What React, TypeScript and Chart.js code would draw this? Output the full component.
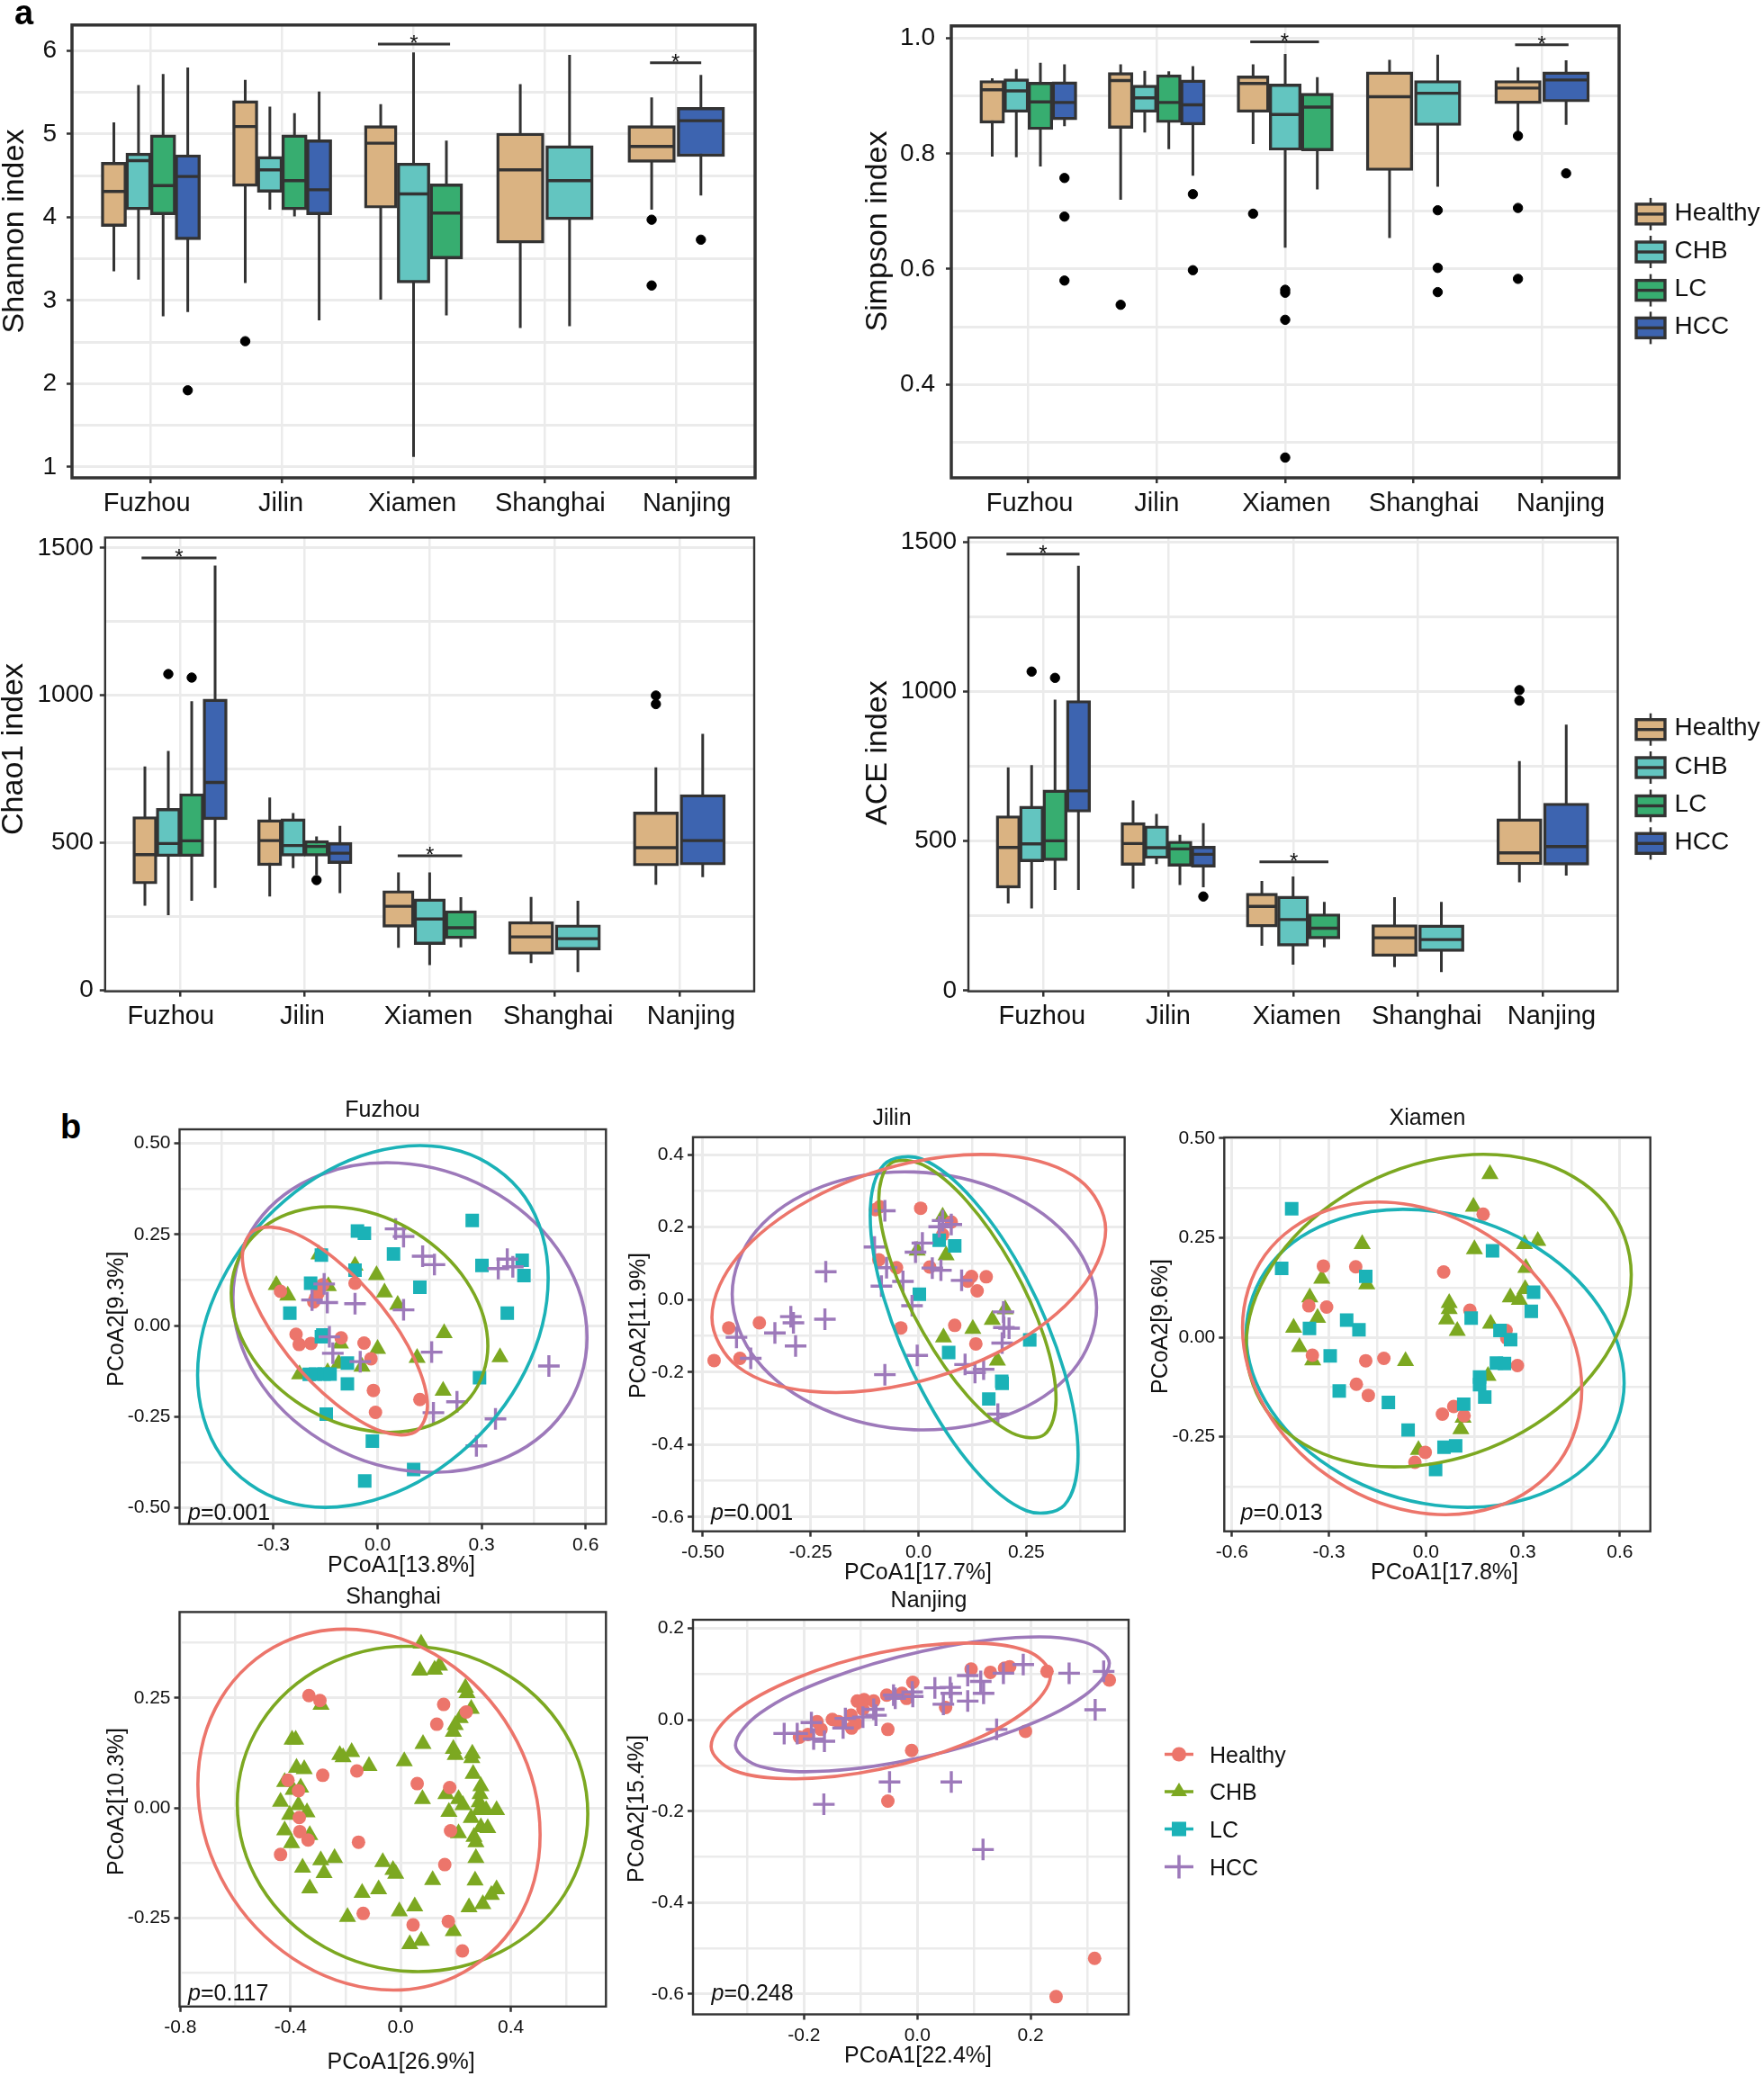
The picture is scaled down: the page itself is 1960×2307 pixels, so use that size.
import React, { useEffect, useRef } from "react";
import { Chart, registerables } from "chart.js";

Chart.register(...registerables);
Chart.defaults.font.family = "'Liberation Sans', Arial, sans-serif";

type Row = number[] | null;
const cities = ["Fuzhou", "Jilin", "Xiamen", "Shanghai", "Nanjing"];
const groups = ["Healthy", "CHB", "LC", "HCC"];
const boxColors = ["#DAB382", "#63C5C0", "#37AD70", "#3D64B0"];
const dotColors = ["#EC756B", "#7CA821", "#1BB2B7", "#9D79BA"];

// box rows: [low whisker, q1, median, q3, high whisker], one per city
const shannonHealthy: Row[] = [[3.35, 3.89, 4.31, 4.66, 5.14], [3.21, 4.37, 5.09, 5.4, 5.65], [3.01, 4.11, 4.89, 5.1, 5.36], [2.67, 3.69, 4.57, 5.01, 5.6], [4.09, 4.66, 4.85, 5.1, 5.44]];
const shannonCHB: Row[] = [[3.25, 4.09, 4.68, 4.77, 5.59], [4.09, 4.3, 4.57, 4.73, 5.33], [1.12, 3.21, 4.28, 4.65, 5.98], [2.69, 3.97, 4.44, 4.86, 5.95], null];
const shannonLC: Row[] = [[2.81, 4.03, 4.38, 4.99, 5.72], [4.01, 4.09, 4.44, 4.99, 5.25], [2.82, 3.5, 4.05, 4.4, 4.92], null, null];
const shannonHCC: Row[] = [[2.86, 3.73, 4.49, 4.75, 5.8], [2.76, 4.03, 4.33, 4.93, 5.51], null, null, [4.26, 4.73, 5.16, 5.32, 5.71]];
// outliers: [city index, group index, value]
const shannonOutliers = [[0, 3, 1.92], [1, 0, 2.51], [4, 0, 3.97], [4, 0, 3.18], [4, 3, 3.73]];
const shannonBrackets = [[2.729, 3.278, 6.08], [4.8, 5.19, 5.857]];
const shannonLabelAt = [0.97, 1.99, 2.99, 4.04, 5.08];

const simpsonHealthy: Row[] = [[0.795, 0.853, 0.911, 0.927, 0.931], [0.72, 0.844, 0.927, 0.941, 0.955], [0.817, 0.872, 0.922, 0.935, 0.955], [0.654, 0.771, 0.899, 0.942, 0.963], [0.834, 0.887, 0.914, 0.927, 0.95]];
const simpsonCHB: Row[] = [[0.794, 0.872, 0.909, 0.93, 0.947], [0.837, 0.872, 0.897, 0.919, 0.944], [0.637, 0.806, 0.868, 0.921, 0.973], [0.743, 0.849, 0.905, 0.927, 0.972], null];
const simpsonLC: Row[] = [[0.778, 0.842, 0.89, 0.924, 0.958], [0.808, 0.854, 0.889, 0.937, 0.943], [0.738, 0.805, 0.881, 0.905, 0.933], null, null];
const simpsonHCC: Row[] = [[0.848, 0.859, 0.889, 0.925, 0.955], [0.762, 0.85, 0.885, 0.928, 0.952], null, null, [0.85, 0.89, 0.928, 0.942, 0.962]];
const simpsonOutliers = [[0, 3, 0.758], [0, 3, 0.691], [0, 3, 0.58], [1, 0, 0.538], [1, 3, 0.73], [1, 3, 0.598], [2, 0, 0.696], [2, 1, 0.564], [2, 1, 0.559], [2, 1, 0.512], [2, 1, 0.273], [3, 1, 0.702], [3, 1, 0.602], [3, 1, 0.56], [4, 0, 0.831], [4, 0, 0.706], [4, 0, 0.583], [4, 3, 0.766]];
const simpsonBrackets = [[2.728, 3.263, 0.994], [4.79, 5.206, 0.989]];
const simpsonLabelAt = [1.01, 2, 3.01, 4.08, 5.145];

const chaoHealthy: Row[] = [[286, 360, 459, 588, 758], [317, 422, 507, 578, 653], [143, 213, 284, 337, 399], [91, 121, 180, 232, 316], [357, 421, 483, 604, 755]];
const chaoCHB: Row[] = [[254, 453, 497, 616, 811], [413, 454, 490, 581, 600], [84, 154, 241, 309, 399], [61, 136, 174, 221, 303], null];
const chaoLC: Row[] = [[303, 453, 506, 666, 980], [391, 454, 487, 507, 521], [145, 174, 211, 269, 315], null, null];
const chaoHCC: Row[] = [[346, 578, 704, 987, 1440], [329, 429, 464, 500, 557], null, null, [383, 424, 507, 663, 869]];
const chaoOutliers = [[0, 1, 1072], [0, 2, 1060], [1, 2, 373], [4, 0, 999], [4, 0, 970]];
const chaoBrackets = [[0.692, 1.292, 1466], [2.744, 3.26, 455]];
const chaoLabelAt = [0.926, 1.98, 2.99, 4.03, 5.095];

const aceHealthy: Row[] = [[292, 343, 479, 585, 747], [341, 419, 492, 562, 636], [150, 213, 282, 326, 367], [79, 115, 177, 221, 313], [362, 421, 461, 575, 768]];
const aceCHB: Row[] = [[275, 431, 491, 617, 754], [423, 442, 478, 551, 591], [87, 149, 238, 316, 382], [62, 131, 171, 220, 297], null];
const aceLC: Row[] = [[337, 435, 501, 671, 973], [353, 416, 474, 500, 521], [145, 173, 209, 257, 297], null, null];
const aceHCC: Row[] = [[337, 597, 668, 970, 1421], [346, 413, 456, 483, 560], null, null, [385, 420, 482, 627, 890]];
const aceOutliers = [[0, 1, 1067], [0, 2, 1046], [1, 3, 315], [4, 0, 1005], [4, 0, 970]];
const aceBrackets = [[0.705, 1.29, 1460], [2.731, 3.283, 431]];
const aceLabelAt = [0.99, 2, 3.03, 4.07, 5.07];

// ordination scores [PCoA1, PCoA2]
const fuzhouHealthy = [[-0.28, 0.094], [-0.235, -0.024], [-0.226, -0.052], [-0.192, -0.049], [-0.105, -0.034], [-0.039, -0.048], [-0.019, -0.091], [-0.012, -0.178], [-0.006, -0.238], [0.122, -0.203], [-0.065, 0.116], [-0.158, 0.112], [-0.172, 0.088], [-0.179, 0.076], [-0.184, 0.065], [-0.174, 0.097]];
const fuzhouCHB = [[-0.292, 0.111], [-0.259, 0.082], [-0.169, 0.195], [-0.142, 0.108], [-0.065, 0.164], [-0.003, 0.138], [0.02, 0.091], [0.058, 0.057], [0.192, -0.021], [0, -0.064], [0.114, -0.089], [0.353, -0.087], [0.189, -0.179], [-0.225, -0.134], [-0.107, -0.049], [-0.112, -0.104], [-0.144, -0.128], [-0.045, -0.113]];
const fuzhouLC = [[0.273, 0.288], [-0.058, 0.259], [-0.038, 0.253], [0.046, 0.196], [0.301, 0.165], [0.417, 0.179], [0.422, 0.137], [0.122, 0.105], [0.374, 0.034], [-0.065, 0.152], [-0.162, 0.193], [-0.193, 0.116], [-0.253, 0.034], [-0.162, -0.031], [-0.158, -0.026], [-0.087, -0.103], [-0.197, -0.134], [-0.179, -0.133], [-0.154, -0.133], [-0.137, -0.133], [-0.087, -0.16], [0.294, -0.143], [-0.148, -0.243], [-0.015, -0.317], [0.104, -0.395], [-0.037, -0.426]];
const fuzhouHCC = [[0.052, 0.265], [0.075, 0.244], [0.13, 0.19], [0.164, 0.167], [0.348, 0.156], [0.374, 0.182], [0.39, 0.161], [-0.145, 0.063], [-0.189, 0.07], [-0.065, 0.06], [0.075, 0.043], [-0.139, -0.031], [-0.129, -0.076], [-0.05, -0.099], [0.156, -0.073], [0.494, -0.111], [0.229, -0.209], [0.161, -0.239], [0.34, -0.256], [0.285, -0.33], [-0.154, 0.114]];
const fuzhouHealthyRing = [[0.144, -0.221], [0.108, -0.094], [0.011, 0.054], [-0.123, 0.183], [-0.257, 0.26], [-0.354, 0.262], [-0.39, 0.191], [-0.354, 0.064], [-0.257, -0.084], [-0.123, -0.213], [0.011, -0.29], [0.108, -0.292]];
const fuzhouCHBRing = [[0.318, -0.056], [0.268, 0.104], [0.133, 0.24], [-0.052, 0.317], [-0.237, 0.313], [-0.372, 0.229], [-0.422, 0.089], [-0.372, -0.071], [-0.237, -0.207], [-0.052, -0.284], [0.133, -0.28], [0.268, -0.196]];
const fuzhouLCRing = [[0.492, 0.131], [0.425, 0.352], [0.239, 0.478], [-0.014, 0.475], [-0.266, 0.344], [-0.451, 0.121], [-0.519, -0.136], [-0.451, -0.357], [-0.266, -0.483], [-0.014, -0.48], [0.239, -0.349], [0.425, -0.126]];
const fuzhouHCCRing = [[0.604, -0.033], [0.536, 0.185], [0.349, 0.359], [0.094, 0.443], [-0.162, 0.414], [-0.349, 0.281], [-0.417, 0.077], [-0.349, -0.141], [-0.162, -0.315], [0.094, -0.399], [0.349, -0.37], [0.536, -0.237]];

const jilinHealthy = [[-0.474, -0.168], [-0.44, -0.078], [-0.369, -0.064], [-0.414, -0.162], [-0.09, 0.256], [-0.1, 0.248], [0.005, 0.252], [0.076, 0.214], [0.056, 0.179], [-0.092, 0.11], [-0.051, 0.088], [0.026, 0.09], [0.123, 0.064], [0.157, 0.063], [0.114, 0.051], [0.136, 0.024], [-0.041, -0.078], [0.084, -0.071], [0.133, -0.122]];
const jilinCHB = [[0.056, 0.229], [-0.003, 0.135], [0.064, 0.122], [0.201, -0.027], [0.171, -0.056], [0.126, -0.081], [0.058, -0.104], [0.183, -0.168]];
const jilinLC = [[0.048, 0.164], [0.084, 0.148], [0.002, 0.015], [0.258, -0.111], [0.07, -0.146], [0.193, -0.225], [0.194, -0.231], [0.163, -0.274]];
const jilinHCC = [[-0.078, 0.245], [0.056, 0.218], [0.048, 0.201], [0.076, 0.207], [0.009, 0.156], [-0.007, 0.131], [-0.102, 0.145], [-0.215, 0.077], [-0.086, 0.037], [-0.074, 0.088], [-0.036, 0.05], [0.032, 0.087], [0.052, 0.081], [0.1, 0.053], [-0.015, -0.017], [-0.296, -0.047], [-0.29, -0.064], [-0.217, -0.054], [-0.333, -0.092], [-0.422, -0.104], [-0.285, -0.128], [-0.389, -0.162], [-0.003, -0.154], [-0.078, -0.207], [0.197, -0.034], [0.198, -0.077], [0.21, -0.079], [0.194, -0.12], [0.108, -0.179], [0.131, -0.201], [0.151, -0.192], [0.184, -0.316]];
const jilinHealthyRing = [[0.434, 0.193], [0.373, 0.33], [0.206, 0.397], [-0.023, 0.377], [-0.251, 0.276], [-0.418, 0.12], [-0.479, -0.049], [-0.418, -0.186], [-0.251, -0.253], [-0.023, -0.233], [0.206, -0.132], [0.373, 0.025]];
const jilinCHBRing = [[0.319, -0.276], [0.292, -0.105], [0.217, 0.094], [0.114, 0.269], [0.011, 0.371], [-0.065, 0.375], [-0.092, 0.279], [-0.065, 0.108], [0.011, -0.091], [0.114, -0.266], [0.217, -0.368], [0.292, -0.372]];
const jilinLCRing = [[0.37, -0.427], [0.338, -0.198], [0.25, 0.058], [0.129, 0.272], [0.009, 0.387], [-0.08, 0.372], [-0.112, 0.232], [-0.08, 0.003], [0.009, -0.253], [0.129, -0.467], [0.25, -0.582], [0.338, -0.567]];
const jilinHCCRing = [[0.413, -0.022], [0.357, 0.159], [0.202, 0.295], [-0.01, 0.352], [-0.221, 0.313], [-0.376, 0.19], [-0.432, 0.015], [-0.376, -0.166], [-0.221, -0.302], [-0.01, -0.359], [0.202, -0.32], [0.357, -0.197]];

const xiamenHealthy = [[0.177, 0.309], [-0.317, 0.179], [-0.217, 0.177], [0.055, 0.164], [-0.362, 0.079], [-0.307, 0.076], [0.136, 0.068], [0.248, 0.017], [0.25, -0.002], [-0.351, -0.045], [-0.186, -0.059], [-0.13, -0.053], [0.283, -0.071], [-0.215, -0.118], [-0.178, -0.146], [0.051, -0.193], [0.086, -0.174], [0.118, -0.197], [-0.002, -0.289], [-0.034, -0.314]];
const xiamenCHB = [[0.198, 0.41], [0.147, 0.328], [0.15, 0.221], [0.305, 0.234], [0.346, 0.242], [-0.197, 0.234], [0.309, 0.174], [-0.322, 0.147], [-0.183, 0.133], [-0.359, 0.1], [0.307, 0.121], [0.261, 0.1], [0.289, 0.094], [0.072, 0.086], [0.072, 0.071], [0.064, 0.045], [-0.335, 0.049], [-0.409, 0.024], [0.097, 0.016], [0.2, 0.034], [-0.391, -0.025], [-0.35, -0.058], [-0.063, -0.06], [0.192, -0.097], [0.115, -0.202], [0.108, -0.231], [-0.023, -0.283]];
const xiamenLC = [[-0.415, 0.323], [-0.446, 0.173], [-0.186, 0.153], [0.206, 0.217], [0.333, 0.113], [0.326, 0.065], [0.14, 0.048], [-0.245, 0.043], [-0.207, 0.019], [-0.36, 0.022], [-0.296, -0.047], [0.229, 0.017], [0.262, -0.006], [0.218, -0.065], [0.243, -0.066], [0.166, -0.1], [0.166, -0.119], [0.182, -0.15], [-0.268, -0.135], [-0.116, -0.164], [0.117, -0.168], [-0.055, -0.233], [0.056, -0.276], [0.092, -0.273], [0.03, -0.332]];
const xiamenHealthyRing = [[0.482, -0.131], [0.412, 0.072], [0.22, 0.241], [-0.043, 0.332], [-0.305, 0.319], [-0.497, 0.207], [-0.567, 0.025], [-0.497, -0.178], [-0.305, -0.347], [-0.043, -0.438], [0.22, -0.425], [0.412, -0.313]];
const xiamenCHBRing = [[0.635, 0.157], [0.556, 0.336], [0.338, 0.443], [0.04, 0.449], [-0.258, 0.353], [-0.476, 0.18], [-0.556, -0.023], [-0.476, -0.202], [-0.258, -0.309], [0.04, -0.315], [0.338, -0.219], [0.556, -0.046]];
const xiamenLCRing = [[0.613, -0.115], [0.535, 0.078], [0.321, 0.236], [0.029, 0.316], [-0.264, 0.298], [-0.478, 0.186], [-0.556, 0.009], [-0.478, -0.184], [-0.264, -0.342], [0.029, -0.422], [0.321, -0.404], [0.535, -0.292]];

const shanghaiHealthy = [[-0.333, 0.255], [-0.293, 0.244], [0.156, 0.235], [0.131, 0.19], [0.238, 0.218], [-0.283, 0.074], [-0.159, 0.084], [0.06, 0.055], [0.178, 0.046], [-0.409, 0.063], [-0.371, 0.039], [-0.368, -0.022], [-0.366, -0.054], [-0.336, -0.073], [-0.153, -0.078], [-0.436, -0.106], [0.181, -0.052], [0.16, -0.129], [-0.136, -0.24], [0.045, -0.266], [0.173, -0.258], [0.224, -0.325]];
const shanghaiCHB = [[0.074, 0.373], [0.069, 0.312], [0.123, 0.314], [0.141, 0.323], [0.235, 0.273], [0.241, 0.261], [-0.289, 0.234], [0.256, 0.225], [0.216, 0.204], [0.198, 0.188], [0.191, 0.173], [-0.394, 0.155], [-0.381, 0.155], [0.081, 0.145], [0.191, 0.134], [0.198, 0.12], [0.26, 0.123], [0.258, 0.113], [-0.221, 0.12], [-0.209, 0.115], [-0.178, 0.127], [-0.115, 0.095], [0.013, 0.106], [-0.378, 0.091], [-0.35, 0.088], [0.263, 0.077], [-0.421, 0.059], [-0.39, 0.041], [-0.363, 0.046], [0.291, 0.049], [0.288, 0.031], [0.164, 0.031], [0.079, 0.02], [0.21, 0.02], [0.226, 0.006], [-0.436, 0.014], [-0.371, 0.006], [-0.34, -0.01], [-0.403, -0.016], [0.285, 0.013], [0.285, -0.005], [0.31, -0.005], [0.348, -0.005], [0.175, -0.009], [0.256, -0.023], [0.291, -0.044], [0.316, -0.046], [-0.421, -0.051], [-0.396, -0.08], [-0.33, -0.062], [0.21, -0.058], [0.266, -0.066], [0.273, -0.078], [0.273, -0.114], [-0.29, -0.119], [-0.24, -0.114], [-0.356, -0.136], [-0.278, -0.148], [-0.065, -0.123], [-0.028, -0.141], [-0.018, -0.15], [0.27, -0.165], [0.116, -0.164], [-0.33, -0.183], [-0.14, -0.193], [-0.08, -0.185], [0.348, -0.185], [0.329, -0.198], [0.051, -0.224], [0.298, -0.219], [0.248, -0.226], [-0.005, -0.235], [-0.193, -0.248], [0.191, -0.28], [0.075, -0.302], [0.033, -0.31]];
const shanghaiHealthyRing = [[0.506, -0.061], [0.423, 0.15], [0.196, 0.319], [-0.115, 0.402], [-0.426, 0.376], [-0.653, 0.248], [-0.736, 0.053], [-0.653, -0.158], [-0.426, -0.327], [-0.115, -0.41], [0.196, -0.384], [0.423, -0.256]];
const shanghaiCHBRing = [[0.679, -0.014], [0.594, 0.173], [0.361, 0.312], [0.043, 0.367], [-0.275, 0.323], [-0.508, 0.192], [-0.593, 0.009], [-0.508, -0.178], [-0.275, -0.317], [0.043, -0.372], [0.361, -0.328], [0.594, -0.197]];

const nanjingHealthy = [[0.245, -0.606], [0.313, -0.522], [0.339, 0.087], [0.229, 0.106], [0.191, -0.025], [0.163, 0.116], [0.154, 0.113], [0.129, 0.104], [0.095, 0.111], [-0.008, 0.082], [0.05, 0.027], [-0.052, -0.021], [-0.01, -0.067], [-0.052, -0.178], [-0.027, 0.058], [-0.019, 0.047], [-0.054, 0.054], [-0.077, 0.041], [-0.094, 0.044], [-0.106, 0.041], [-0.096, 0.023], [-0.117, 0.01], [-0.108, -0.008], [-0.116, -0.018], [-0.15, 0.001], [-0.139, -0.004], [-0.177, -0.004], [-0.17, -0.021], [-0.193, -0.032], [-0.208, -0.038]];
const nanjingHCC = [[-0.235, -0.03], [-0.212, -0.03], [-0.187, -0.006], [-0.183, -0.042], [-0.164, -0.047], [-0.127, 0.003], [-0.131, -0.018], [-0.096, 0.006], [-0.073, 0.01], [-0.077, 0.023], [-0.042, 0.054], [-0.039, 0.047], [-0.009, 0.061], [-0.008, 0.051], [0.031, 0.07], [0.058, 0.071], [0.06, 0.058], [0.046, 0.034], [0.089, 0.041], [0.089, 0.097], [0.112, 0.084], [0.117, 0.058], [0.152, 0.102], [0.187, 0.121], [0.268, 0.102], [0.329, 0.106], [0.314, 0.022], [0.14, -0.021], [-0.049, -0.136], [0.06, -0.136], [-0.165, -0.185], [0.116, -0.284]];
const nanjingHealthyRing = [[0.235, 0.097], [0.195, 0.15], [0.085, 0.168], [-0.065, 0.147], [-0.214, 0.091], [-0.324, 0.016], [-0.364, -0.058], [-0.324, -0.111], [-0.214, -0.129], [-0.065, -0.108], [0.085, -0.052], [0.195, 0.023]];
const nanjingHCCRing = [[0.339, 0.124], [0.295, 0.17], [0.174, 0.18], [0.009, 0.15], [-0.156, 0.09], [-0.277, 0.015], [-0.321, -0.056], [-0.277, -0.102], [-0.156, -0.112], [0.009, -0.082], [0.174, -0.022], [0.295, 0.053]];

const INK = "#333333";
const GRID = "#EBEBEB";
const TEXT = "#111111";

type Rect = { l: number; t: number; r: number; b: number };
type Note = { s: string; x: number; y: number; size: number; rot?: boolean; align?: CanvasTextAlign; italic?: boolean };

function axis(o: { dir: "x" | "y"; min: number; max: number; major: number[]; minor: number[]; labels: string[]; pad: number; size: number; fixed: number; lwMajor: number; lwMinor: number }) {
  const map = new Map(o.major.map((v, i) => [v, o.labels[i]]));
  const all = [...o.major, ...o.minor].sort((a, b) => a - b);
  return {
    type: "linear",
    min: o.min,
    max: o.max,
    offset: false,
    afterBuildTicks: (a: any) => { a.ticks = all.map((value) => ({ value })); },
    afterFit: (a: any) => { if (o.dir === "x") a.height = o.fixed; else a.width = o.fixed; },
    border: { display: false },
    grid: {
      offset: false,
      color: GRID,
      lineWidth: (c: any) => (c.tick && map.has(c.tick.value) ? o.lwMajor : o.lwMinor),
      tickColor: (c: any) => (c.tick && map.has(c.tick.value) ? INK : "rgba(0,0,0,0)"),
      tickLength: 6,
      tickWidth: 2.5,
    },
    ticks: {
      autoSkip: false, maxRotation: 0, minRotation: 0, padding: o.pad, color: TEXT,
      font: { size: o.size },
      callback: (v: number) => map.get(v) ?? "",
    },
  };
}

function frameAndNotes(p: { canvas: Rect; frame: number; notes: Note[]; stars?: number[][]; extra?: (ctx: CanvasRenderingContext2D) => void }) {
  return {
    id: "panelDecor",
    afterDatasetsDraw(chart: any) {
      const ctx: CanvasRenderingContext2D = chart.ctx;
      const { left, top, right, bottom } = chart.chartArea;
      ctx.save();
      ctx.strokeStyle = INK;
      ctx.lineWidth = p.frame;
      ctx.strokeRect(left, top, right - left, bottom - top);
      ctx.fillStyle = TEXT;
      (p.stars || []).forEach((b) => {
        ctx.font = "24px 'Liberation Sans'";
        ctx.textAlign = "center";
        ctx.textBaseline = "alphabetic";
        ctx.fillText("*", chart.scales.x.getPixelForValue((b[0] + b[1]) / 2), chart.scales.y.getPixelForValue(b[2]) + 7);
      });
      ctx.translate(-p.canvas.l, -p.canvas.t);
      p.notes.forEach((n) => {
        ctx.save();
        ctx.font = `${n.italic ? "italic " : ""}${n.size}px 'Liberation Sans'`;
        ctx.textAlign = n.align || "center";
        ctx.textBaseline = "middle";
        ctx.translate(n.x, n.y);
        if (n.rot) ctx.rotate(-Math.PI / 2);
        ctx.fillText(n.s, 0, 0);
        ctx.restore();
      });
      if (p.extra) p.extra(ctx);
      ctx.restore();
    },
  };
}

function boxLegend(ys: number[]) {
  return (ctx: CanvasRenderingContext2D) => {
    ys.forEach((y, i) => {
      ctx.strokeStyle = INK;
      ctx.lineWidth = 2.5;
      ctx.beginPath();
      ctx.moveTo(1834, y - 18);
      ctx.lineTo(1834, y + 18);
      ctx.stroke();
      ctx.fillStyle = boxColors[i];
      ctx.fillRect(1818, y - 11, 32, 22);
      ctx.lineWidth = 3.4;
      ctx.strokeRect(1818, y - 11, 32, 22);
      ctx.beginPath();
      ctx.moveTo(1818, y);
      ctx.lineTo(1850, y);
      ctx.stroke();
      ctx.fillStyle = TEXT;
      ctx.font = "28px 'Liberation Sans'";
      ctx.textAlign = "left";
      ctx.textBaseline = "middle";
      ctx.fillText(groups[i], 1860.6, y - 1);
    });
  };
}

function dotLegend(ctx: CanvasRenderingContext2D) {
  const ys = [1949.5, 1991, 2032.5, 2074.5];
  const cx = 1310;
  ys.forEach((y, i) => {
    ctx.strokeStyle = dotColors[i];
    ctx.fillStyle = dotColors[i];
    ctx.lineWidth = 3.5;
    ctx.beginPath();
    ctx.moveTo(1294, y);
    ctx.lineTo(1326, y);
    ctx.stroke();
    ctx.beginPath();
    if (i === 0) ctx.arc(cx, y, 8, 0, Math.PI * 2);
    if (i === 1) { ctx.moveTo(cx, y - 10); ctx.lineTo(cx + 9, y + 5); ctx.lineTo(cx - 9, y + 5); ctx.closePath(); }
    if (i === 2) ctx.rect(cx - 8, y - 8, 16, 16);
    if (i === 3) { ctx.moveTo(cx, y - 13); ctx.lineTo(cx, y + 13); ctx.stroke(); }
    else ctx.fill();
    ctx.fillStyle = TEXT;
    ctx.font = "25px 'Liberation Sans'";
    ctx.textAlign = "left";
    ctx.textBaseline = "middle";
    ctx.fillText(groups[i], 1344, y + 2.5);
  });
}

function boxConfig(o: { canvas: Rect; plot: Rect; frame: number; rows: Row[][]; outliers: number[][]; brackets: number[][]; labelAt: number[]; xPad: number; yMin: number; yMax: number; major: number[]; minor: number[]; labels: string[]; yPad: number; notes: Note[]; extra?: (c: CanvasRenderingContext2D) => void }) {
  const pxPerUnit = (o.plot.r - o.plot.l) / 5.2;
  const datasets: any[] = [];
  const xOf: Record<string, number> = {};
  cities.forEach((_, c) => {
    const present = o.rows.map((r, s) => (r[c] ? s : -1)).filter((s) => s >= 0);
    const dodge = 0.75 / present.length;
    const w = dodge * 0.9;
    present.forEach((s, k) => {
      const x = c + 1 + (k - (present.length - 1) / 2) * dodge;
      xOf[`${c}-${s}`] = x;
      const [lo, q1, med, q3, hi] = o.rows[s][c] as number[];
      datasets.push({ type: "line", label: `${groups[s]} whisker`, data: [{ x, y: lo }, { x, y: hi }], borderColor: INK, borderWidth: 3, pointRadius: 0, order: 3 });
      datasets.push({ type: "bar", label: `${groups[s]} ${cities[c]}`, data: [{ x, y: [q1, q3] }], barThickness: w * pxPerUnit + 3.4, grouped: false, backgroundColor: boxColors[s], borderColor: INK, borderWidth: 3.4, borderSkipped: false, order: 2 });
      datasets.push({ type: "line", label: `${groups[s]} median`, data: [{ x: x - w / 2, y: med }, { x: x + w / 2, y: med }], borderColor: INK, borderWidth: 3.4, pointRadius: 0, order: 1 });
    });
  });
  datasets.push({ type: "scatter", label: "outliers", data: o.outliers.map(([c, s, v]) => ({ x: xOf[`${c}-${s}`], y: v })), backgroundColor: "#000", borderColor: "#000", pointRadius: 5.2, order: 0 });
  o.brackets.forEach((b) => datasets.push({ type: "line", label: "bracket", data: [{ x: b[0], y: b[2] }, { x: b[1], y: b[2] }], borderColor: INK, borderWidth: 3, pointRadius: 0, order: 0 }));
  const xMarks = axis({ dir: "x", min: 0.4, max: 5.6, major: [1, 2, 3, 4, 5], minor: [], labels: cities, pad: 0, size: 29, fixed: 0, lwMajor: 2.5, lwMinor: 2.5 });
  const xNames = axis({ dir: "x", min: 0.4, max: 5.6, major: o.labelAt, minor: [], labels: cities, pad: o.xPad, size: 29, fixed: o.canvas.b - o.plot.b, lwMajor: 0, lwMinor: 0 });
  return {
    canvas: o.canvas,
    config: {
      type: "bar",
      data: { datasets },
      options: {
        animation: false, responsive: false, devicePixelRatio: 1, events: [],
        layout: { padding: { top: o.plot.t - o.canvas.t, right: o.canvas.r - o.plot.r, left: 0, bottom: 0 } },
        plugins: { legend: { display: false }, tooltip: { enabled: false } },
        scales: {
          x: { ...xMarks, position: "bottom", weight: 0, ticks: { ...xMarks.ticks, display: false } },
          xNames: { ...xNames, axis: "x", position: "bottom", weight: 1, grid: { display: false, drawTicks: false } },
          y: axis({ dir: "y", min: o.yMin, max: o.yMax, major: o.major, minor: o.minor, labels: o.labels, pad: o.yPad, size: 28, fixed: o.plot.l - o.canvas.l, lwMajor: 3, lwMinor: 3 }),
        },
      },
      plugins: [frameAndNotes({ canvas: o.canvas, frame: o.frame, notes: o.notes, stars: o.brackets, extra: o.extra })],
    },
  };
}

// the ring repeats its ends so that the spline closes smoothly; the repeated end spans stay unpainted
const ringPoints = (pts: number[][]) => [pts[pts.length - 1], ...pts, pts[0], pts[1]].map(([x, y]) => ({ x, y }));
const toXY = (pts: number[][]) => pts.map(([x, y]) => ({ x, y }));

const markers = [
  { pointStyle: "circle", pointRadius: 7.5, pointBorderWidth: 0 },
  { pointStyle: "triangle", pointRadius: 11, pointBorderWidth: 0 },
  { pointStyle: "rect", pointRadius: 10.6, pointBorderWidth: 0 },
  { pointStyle: "cross", pointRadius: 12, pointBorderWidth: 3.4 },
];

function pcoaConfig(o: { canvas: Rect; plot: Rect; points: (number[][] | null)[]; rings: (number[][] | null)[]; xr: number[]; yr: number[]; xMajor: number[]; xMinor: number[]; xLabels: string[]; yMajor: number[]; yMinor: number[]; yLabels: string[]; notes: Note[]; extra?: (c: CanvasRenderingContext2D) => void }) {
  const datasets: any[] = [];
  o.rings.forEach((r, s) => {
    if (!r) return;
    const data = ringPoints(r);
    datasets.push({
      type: "line", label: `${groups[s]} ellipse`, data, borderColor: dotColors[s], borderWidth: 3.6, pointRadius: 0, tension: 0.35, fill: false, order: 0,
      segment: { borderColor: (c: any) => (c.p0DataIndex === 0 || c.p1DataIndex === data.length - 1 ? "rgba(0,0,0,0)" : dotColors[s]) },
    });
  });
  [3, 2, 0, 1].forEach((s) => {
    const p = o.points[s];
    if (p) datasets.push({ type: "scatter", label: groups[s], data: toXY(p), backgroundColor: dotColors[s], borderColor: dotColors[s], ...markers[s], order: 1 });
  });
  return {
    canvas: o.canvas,
    config: {
      type: "scatter",
      data: { datasets },
      options: {
        animation: false, responsive: false, devicePixelRatio: 1, events: [],
        layout: { padding: { top: o.plot.t - o.canvas.t, right: o.canvas.r - o.plot.r, left: 0, bottom: 0 } },
        plugins: { legend: { display: false }, tooltip: { enabled: false } },
        scales: {
          x: axis({ dir: "x", min: o.xr[0], max: o.xr[1], major: o.xMajor, minor: o.xMinor, labels: o.xLabels, pad: 5, size: 21, fixed: o.canvas.b - o.plot.b, lwMajor: 3, lwMinor: 2.5 }),
          y: axis({ dir: "y", min: o.yr[0], max: o.yr[1], major: o.yMajor, minor: o.yMinor, labels: o.yLabels, pad: 4, size: 21, fixed: o.plot.l - o.canvas.l, lwMajor: 3, lwMinor: 2.5 }),
        },
      },
      plugins: [frameAndNotes({ canvas: o.canvas, frame: 2.4, notes: o.notes, extra: o.extra })],
    },
  };
}

const pNote = (s: string, x: number, y: number): Note[] => [
  { s: "p", x, y, size: 25, align: "left", italic: true },
  { s, x: x + 14, y, size: 25, align: "left" },
];

const panels = [
  boxConfig({
    canvas: { l: 0, t: 0, r: 880, b: 590 }, plot: { l: 80, t: 25, r: 839, b: 531 }, frame: 3.5,
    rows: [shannonHealthy, shannonCHB, shannonLC, shannonHCC], outliers: shannonOutliers, brackets: shannonBrackets, labelAt: shannonLabelAt, xPad: 12,
    yMin: 0.868, yMax: 6.31, major: [1, 2, 3, 4, 5, 6], minor: [1.5, 2.5, 3.5, 4.5, 5.5], labels: ["1", "2", "3", "4", "5", "6"], yPad: 11,
    notes: [{ s: "Shannon index", x: 16.5, y: 257, size: 34, rot: true }],
  }),
  boxConfig({
    canvas: { l: 940, t: 0, r: 1960, b: 590 }, plot: { l: 1057, t: 25, r: 1799, b: 531 }, frame: 3.5,
    rows: [simpsonHealthy, simpsonCHB, simpsonLC, simpsonHCC], outliers: simpsonOutliers, brackets: simpsonBrackets, labelAt: simpsonLabelAt, xPad: 12,
    yMin: 0.2378, yMax: 1.0218, major: [0.4, 0.6, 0.8, 1], minor: [0.3, 0.5, 0.7, 0.9], labels: ["0.4", "0.6", "0.8", "1.0"], yPad: 12,
    notes: [{ s: "Simpson index", x: 975.5, y: 257, size: 34, rot: true }],
    extra: boxLegend([237.9, 280, 322.6, 364.4]),
  }),
  boxConfig({
    canvas: { l: 0, t: 570, r: 880, b: 1160 }, plot: { l: 116.8, t: 597.4, r: 838, b: 1101.6 }, frame: 2.4,
    rows: [chaoHealthy, chaoCHB, chaoLC, chaoHCC], outliers: chaoOutliers, brackets: chaoBrackets, labelAt: chaoLabelAt, xPad: 10.5,
    yMin: -4.5, yMax: 1535, major: [0, 500, 1000, 1500], minor: [250, 750, 1250], labels: ["0", "500", "1000", "1500"], yPad: 7,
    notes: [{ s: "Chao1 index", x: 16, y: 832.5, size: 34, rot: true }],
  }),
  boxConfig({
    canvas: { l: 940, t: 570, r: 1960, b: 1160 }, plot: { l: 1076, t: 597.4, r: 1797.5, b: 1101.6 }, frame: 2.4,
    rows: [aceHealthy, aceCHB, aceLC, aceHCC], outliers: aceOutliers, brackets: aceBrackets, labelAt: aceLabelAt, xPad: 10.5,
    yMin: -2, yMax: 1515, major: [0, 500, 1000, 1500], minor: [250, 750, 1250], labels: ["0", "500", "1000", "1500"], yPad: 7,
    notes: [{ s: "ACE index", x: 975.5, y: 836.6, size: 34, rot: true }],
    extra: boxLegend([810.7, 853, 895.5, 937.3]),
  }),
  pcoaConfig({
    canvas: { l: 100, t: 1210, r: 690, b: 1760 }, plot: { l: 199.5, t: 1255, r: 673.3, b: 1693.5 },
    points: [fuzhouHealthy, fuzhouCHB, fuzhouLC, fuzhouHCC], rings: [fuzhouHealthyRing, fuzhouCHBRing, fuzhouLCRing, fuzhouHCCRing],
    xr: [-0.571, 0.6586], yr: [-0.544, 0.538],
    xMajor: [-0.3, 0, 0.3, 0.6], xMinor: [-0.45, -0.15, 0.15, 0.45], xLabels: ["-0.3", "0.0", "0.3", "0.6"],
    yMajor: [-0.5, -0.25, 0, 0.25, 0.5], yMinor: [-0.375, -0.125, 0.125, 0.375], yLabels: ["-0.50", "-0.25", "0.00", "0.25", "0.50"],
    notes: [{ s: "Fuzhou", x: 425, y: 1234.5, size: 25 }, { s: "PCoA1[13.8%]", x: 446, y: 1740.5, size: 25 }, { s: "PCoA2[9.3%]", x: 130.5, y: 1465.6, size: 25, rot: true }, ...pNote("=0.001", 209, 1682.5)],
  }),
  pcoaConfig({
    canvas: { l: 680, t: 1210, r: 1265, b: 1760 }, plot: { l: 770, t: 1263.7, r: 1253.7, b: 1701.7 },
    points: [jilinHealthy, jilinCHB, jilinLC, jilinHCC], rings: [jilinHealthyRing, jilinCHBRing, jilinLCRing, jilinHCCRing],
    xr: [-0.5229, 0.478], yr: [-0.639, 0.448],
    xMajor: [-0.5, -0.25, 0, 0.25], xMinor: [-0.375, -0.125, 0.125, 0.375], xLabels: ["-0.50", "-0.25", "0.0", "0.25"],
    yMajor: [-0.6, -0.4, -0.2, 0, 0.2, 0.4], yMinor: [-0.5, -0.3, -0.1, 0.1, 0.3], yLabels: ["-0.6", "-0.4", "-0.2", "0.0", "0.2", "0.4"],
    notes: [{ s: "Jilin", x: 991, y: 1243.5, size: 25 }, { s: "PCoA1[17.7%]", x: 1020, y: 1748.5, size: 25 }, { s: "PCoA2[11.9%]", x: 710.5, y: 1473, size: 25, rot: true }, ...pNote("=0.001", 790, 1682.5)],
  }),
  pcoaConfig({
    canvas: { l: 1260, t: 1210, r: 1860, b: 1760 }, plot: { l: 1360.3, t: 1264, r: 1833.7, b: 1701.7 },
    points: [xiamenHealthy, xiamenCHB, xiamenLC, null], rings: [xiamenHealthyRing, xiamenCHBRing, xiamenLCRing, null],
    xr: [-0.6235, 0.694], yr: [-0.4875, 0.502],
    xMajor: [-0.6, -0.3, 0, 0.3, 0.6], xMinor: [-0.45, -0.15, 0.15, 0.45], xLabels: ["-0.6", "-0.3", "0.0", "0.3", "0.6"],
    yMajor: [-0.25, 0, 0.25, 0.5], yMinor: [-0.375, -0.125, 0.125, 0.375], yLabels: ["-0.25", "0.00", "0.25", "0.50"],
    notes: [{ s: "Xiamen", x: 1586, y: 1243.5, size: 25 }, { s: "PCoA1[17.8%]", x: 1605, y: 1748.5, size: 25 }, { s: "PCoA2[9.6%]", x: 1290.5, y: 1474, size: 25, rot: true }, ...pNote("=0.013", 1378.6, 1682.5)],
  }),
  pcoaConfig({
    canvas: { l: 100, t: 1755, r: 690, b: 2307 }, plot: { l: 199.5, t: 1791.4, r: 673.3, b: 2229.8 },
    points: [shanghaiHealthy, shanghaiCHB, null, null], rings: [shanghaiHealthyRing, shanghaiCHBRing, null, null],
    xr: [-0.8025, 0.745], yr: [-0.4515, 0.445],
    xMajor: [-0.8, -0.4, 0, 0.4], xMinor: [-0.6, -0.2, 0.2, 0.6], xLabels: ["-0.8", "-0.4", "0.0", "0.4"],
    yMajor: [-0.25, 0, 0.25], yMinor: [-0.375, -0.125, 0.125, 0.375], yLabels: ["-0.25", "0.00", "0.25"],
    notes: [{ s: "Shanghai", x: 437, y: 1775.5, size: 25 }, { s: "PCoA1[26.9%]", x: 445.6, y: 2292.5, size: 25 }, { s: "PCoA2[10.3%]", x: 130.5, y: 2002, size: 25, rot: true }, ...pNote("=0.117", 209, 2216.5)],
  }),
  pcoaConfig({
    canvas: { l: 680, t: 1755, r: 1500, b: 2307 }, plot: { l: 770, t: 1800, r: 1254, b: 2238.5 },
    points: [nanjingHealthy, null, null, nanjingHCC], rings: [nanjingHealthyRing, null, null, nanjingHCCRing],
    xr: [-0.396, 0.373], yr: [-0.6447, 0.219],
    xMajor: [-0.2, 0, 0.2], xMinor: [-0.3, -0.1, 0.1, 0.3], xLabels: ["-0.2", "0.0", "0.2"],
    yMajor: [-0.6, -0.4, -0.2, 0, 0.2], yMinor: [-0.5, -0.3, -0.1, 0.1], yLabels: ["-0.6", "-0.4", "-0.2", "0.0", "0.2"],
    notes: [{ s: "Nanjing", x: 1032, y: 1779.5, size: 25 }, { s: "PCoA1[22.4%]", x: 1020, y: 2285.5, size: 25 }, { s: "PCoA2[15.4%]", x: 707.7, y: 2010, size: 25, rot: true }, ...pNote("=0.248", 790.5, 2216.5)],
    extra: dotLegend,
  }),
];

function Panel({ canvas, config }: { canvas: Rect; config: any }) {
  const ref = useRef<HTMLCanvasElement>(null);
  useEffect(() => {
    const chart = new Chart(ref.current as HTMLCanvasElement, config);
    return () => chart.destroy();
  }, []);
  const w = canvas.r - canvas.l;
  const h = canvas.b - canvas.t;
  return <canvas ref={ref} width={w} height={h} style={{ position: "absolute", left: canvas.l, top: canvas.t, width: w, height: h }} />;
}

const letterStyle = (left: number, top: number): React.CSSProperties => ({ position: "absolute", left, top, font: "bold 38px 'Liberation Sans'", lineHeight: "38px", color: "#000" });

export default function App() {
  return (
    <div style={{ position: "absolute", left: 0, top: 0, width: 1960, height: 2307, background: "#fff", overflow: "hidden" }}>
      {panels.map((p, i) => <Panel key={i} canvas={p.canvas} config={p.config} />)}
      <div style={letterStyle(16, -5)}>a</div>
      <div style={letterStyle(67, 1233)}>b</div>
    </div>
  );
}
